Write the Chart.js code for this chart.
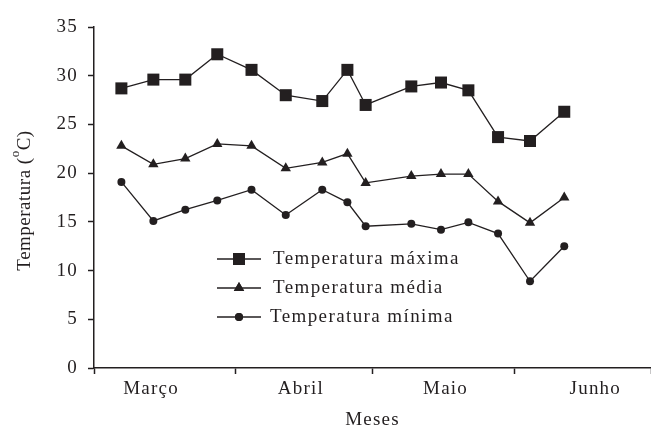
<!DOCTYPE html>
<html>
<head>
<meta charset="utf-8">
<script src="https://cdn.jsdelivr.net/npm/chart.js@4"></script>
<style>
  html, body { margin: 0; padding: 0; background: #fff; }
  #tempChart { display: block; }
</style>
</head>
<body>
<canvas id="tempChart" width="651" height="428"></canvas>
<script>
// Days counted from 1 March (0 = 1 Mar, 31 = 1 Apr, 61 = 1 May, 92 = 1 Jun, 122 = 1 Jul)
const days = [6, 13, 20, 27, 34.5, 42, 50, 55.5, 59.5, 69.5, 76, 82, 88.5, 95.5, 103];

const tempMax = [28.7, 29.6, 29.6, 32.2, 30.6, 28.0, 27.4, 30.6, 27.0, 28.9, 29.3, 28.5, 23.7, 23.3, 26.3];
const tempMed = [22.8, 20.9, 21.5, 23.0, 22.8, 20.5, 21.1, 22.0, 19.0, 19.7, 19.9, 19.9, 17.1, 14.9, 17.5];
const tempMin = [19.1, 15.1, 16.25, 17.2, 18.3, 15.7, 18.3, 17.0, 14.55, 14.8, 14.2, 14.95, 13.8, 8.9, 12.5];

const seriesNames = ['Temperatura máxima', 'Temperatura média', 'Temperatura mínima'];

const months = ['Março', 'Abril', 'Maio', 'Junho'];
const monthLabelAt = [12.5, 45.3, 77, 109.8];
const monthStarts = [0, 31, 61, 92, 122];

const yTicks = [0, 5, 10, 15, 20, 25, 30, 35];

const ink = '#231f20';
const serif = "'Liberation Serif', 'Times New Roman', serif";

function toPoints(values) {
  return values.map((v, i) => ({ x: days[i], y: v }));
}

// text in the picture is a bit wider than plain Times, so space the letters out a little
const spacing = {
  id: 'spacing',
  beforeLayout(chart) { chart.ctx.letterSpacing = '1.2px'; },
  beforeDraw(chart) { chart.ctx.letterSpacing = '1.2px'; }
};

// y title with the raised "o" of (oC)
const yTitle = {
  id: 'yTitle',
  afterDraw(chart) {
    const ctx = chart.ctx;
    const area = chart.chartArea;
    const big = '19px ' + serif;
    const small = '13px ' + serif;
    ctx.save();
    ctx.letterSpacing = '0.5px';
    ctx.fillStyle = ink;
    ctx.textBaseline = 'alphabetic';
    ctx.font = big;
    const w1 = ctx.measureText('Temperatura (').width;
    const w3 = ctx.measureText('C)').width;
    ctx.font = small;
    const w2 = ctx.measureText('o').width;
    const total = w1 + w2 + w3;
    ctx.translate(30, (area.top + area.bottom) / 2 + 3);
    ctx.rotate(-Math.PI / 2);
    let x = -total / 2;
    ctx.font = big;
    ctx.fillText('Temperatura (', x, 0);
    x += w1;
    ctx.font = small;
    ctx.fillText('o', x, -11);
    x += w2;
    ctx.font = big;
    ctx.fillText('C)', x, 0);
    ctx.restore();
  }
};

// legend sits inside the plot, under the curves
const insideLegend = {
  id: 'insideLegend',
  afterDraw(chart) {
    const ctx = chart.ctx;
    const rows = [259, 288, 317];
    ctx.save();
    ctx.letterSpacing = '1.4px';
    chart.data.datasets.forEach((ds, i) => {
      const y = rows[i];
      ctx.strokeStyle = ink;
      ctx.lineWidth = 1.3;
      ctx.beginPath();
      ctx.moveTo(217, y);
      ctx.lineTo(261, y);
      ctx.stroke();
      ctx.fillStyle = ink;
      Chart.helpers.drawPoint(ctx, {
        pointStyle: ds.pointStyle,
        radius: ds.pointRadius,
        rotation: 0,
        borderWidth: 0
      }, 239, y);
      ctx.fill();
      ctx.font = '19px ' + serif;
      ctx.textBaseline = 'middle';
      ctx.textAlign = 'left';
      ctx.fillText(ds.label, i === 2 ? 270 : 273, y);
    });
    ctx.restore();
  }
};

document.addEventListener('DOMContentLoaded', function () {
  const ctx = document.getElementById('tempChart').getContext('2d');

  new Chart(ctx, {
    type: 'line',
    data: {
      datasets: [
        {
          label: seriesNames[0],
          data: toPoints(tempMax),
          borderColor: ink,
          backgroundColor: ink,
          borderWidth: 1.3,
          pointStyle: 'rect',
          pointRadius: 8.5,
          pointBorderWidth: 0,
          tension: 0
        },
        {
          label: seriesNames[1],
          data: toPoints(tempMed),
          borderColor: ink,
          backgroundColor: ink,
          borderWidth: 1.3,
          pointStyle: 'triangle',
          pointRadius: 6,
          pointBorderWidth: 0,
          tension: 0
        },
        {
          label: seriesNames[2],
          data: toPoints(tempMin),
          borderColor: ink,
          backgroundColor: ink,
          borderWidth: 1.3,
          pointStyle: 'circle',
          pointRadius: 4,
          pointBorderWidth: 0,
          tension: 0
        }
      ]
    },
    options: {
      responsive: false,
      animation: false,
      devicePixelRatio: 1,
      layout: { autoPadding: false, padding: { top: 27, right: 0, bottom: 0, left: 0 } },
      plugins: {
        legend: { display: false },
        tooltip: { enabled: false }
      },
      scales: {
        x: {
          type: 'linear',
          min: monthStarts[0],
          max: monthStarts[monthStarts.length - 1],
          afterBuildTicks: axis => {
            const t = [];
            monthStarts.forEach((v, i) => {
              t.push({ value: v });
              if (i < months.length) t.push({ value: monthLabelAt[i] });
            });
            axis.ticks = t;
          },
          afterFit: axis => {
            axis.height = 60;
            axis.paddingLeft = 0;
            axis.paddingRight = 0;
          },
          border: { display: true, color: ink, width: 1.5 },
          grid: {
            display: true,
            drawOnChartArea: false,
            drawTicks: true,
            tickLength: 6,
            tickWidth: 1.5,
            tickColor: c => (c.index % 2 === 0 ? ink : 'rgba(0,0,0,0)')
          },
          ticks: {
            autoSkip: false,
            maxRotation: 0,
            minRotation: 0,
            padding: 4,
            color: ink,
            font: { family: serif, size: 19 },
            callback: (value, index) => (index % 2 === 1 ? months[(index - 1) / 2] : '')
          },
          title: {
            display: true,
            text: 'Meses',
            color: ink,
            font: { family: serif, size: 19, lineHeight: 0.8 },
            padding: { top: 0, bottom: 0 }
          }
        },
        y: {
          min: yTicks[0],
          max: yTicks[yTicks.length - 1],
          afterBuildTicks: axis => { axis.ticks = yTicks.map(v => ({ value: v })); },
          afterFit: axis => { axis.width = 94; },
          border: { display: true, color: ink, width: 1.5 },
          grid: {
            display: true,
            drawOnChartArea: false,
            drawTicks: true,
            tickLength: 6,
            tickWidth: 1.5,
            tickColor: ink
          },
          ticks: {
            padding: 10,
            color: ink,
            font: { family: serif, size: 19 }
          }
        }
      }
    },
    plugins: [spacing, yTitle, insideLegend]
  });
});
</script>
</body>
</html>
